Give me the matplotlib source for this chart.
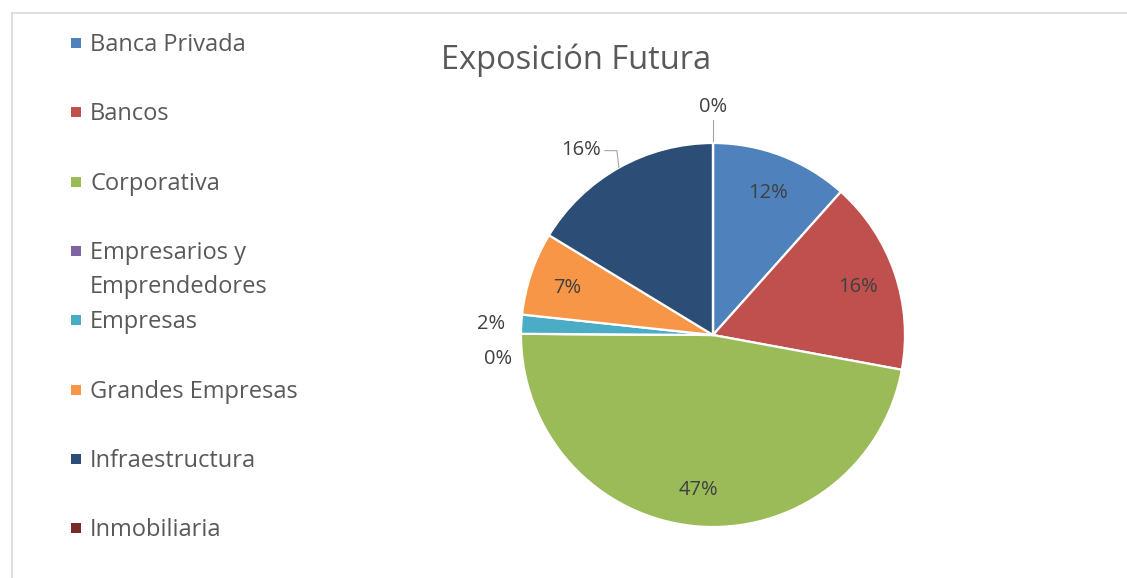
import matplotlib
matplotlib.use("Agg")
import matplotlib.pyplot as plt
import numpy as np

# data (shares of future exposure, %)
categories = ["Banca Privada", "Bancos", "Corporativa", "Empresarios y\nEmprendedores",
              "Empresas", "Grandes Empresas", "Infraestructura", "Inmobiliaria"]
shares = [11.6, 16.3, 47.2, 0.0, 1.6, 7.0, 16.3, 0.0]
colors = ["#4F81BD", "#C0504D", "#9BBB59", "#8064A2",
          "#4BACC6", "#F79646", "#2C4D75", "#772C2A"]
title = "Exposición Futura"

plt.rcParams['font.family'] = ['Open Sans', 'DejaVu Sans']
txt_col = "#595959"
lbl_col = "#404040"

W, H = 1127, 578
fig = plt.figure(figsize=(W / 100, H / 100), dpi=100)
ax = fig.add_axes([0, 0, 1, 1])

cx, cy, R = 713, H - 335, 192  # pie centre / radius in pixel units
wedges, _ = ax.pie(shares, colors=colors, startangle=90, counterclock=False,
                   center=(cx, cy), radius=R, frame=True,
                   wedgeprops=dict(edgecolor="white", linewidth=1.6))
ax.set_xlim(0, W)
ax.set_ylim(0, H)
ax.axis('off')

# chart border (only top and left visible in the crop)
ax.plot([12, W], [H - 13, H - 13], color="#D9D9D9", lw=1.2, clip_on=False)
ax.plot([12, 12], [H - 13, 0], color="#D9D9D9", lw=1.2, clip_on=False)

ax.text(576, H - 60, title, fontsize=23.5, color=txt_col, ha='center', va='center')

# data labels
def mid(w):
    a = np.deg2rad((w.theta1 + w.theta2) / 2)
    return np.cos(a), np.sin(a)

fs = 14.5
for i, (w, v) in enumerate(zip(wedges, shares)):
    c, s = mid(w)
    if v >= 5 and i != 6:
        ax.text(cx + 0.8 * R * c, cy + 0.8 * R * s - 2, "%d%%" % round(v), fontsize=fs,
                color=lbl_col, ha='center', va='center')

# labels outside the pie
c, s = mid(wedges[7])
ax.text(cx + 1.2 * R * c, cy + 1.2 * R * s - 2, "%d%%" % round(shares[7]), fontsize=fs,
        color=lbl_col, ha='center', va='center')
ax.plot([cx + 1.01 * R * c, cx + 1.12 * R * c], [cy + 1.01 * R * s, cy + 1.12 * R * s],
        color="#A6A6A6", lw=0.8)
c, s = mid(wedges[6])
ex, ey = cx + R * c, cy + R * s
ax.plot([ex, ex - 2, ex - 14], [ey, ey + 17, ey + 17], color="#A6A6A6", lw=0.8)
ax.text(ex - 18, ey + 18, "%d%%" % round(shares[6]), fontsize=fs, color=lbl_col,
        ha='right', va='center')
c, s = mid(wedges[4])
ax.text(cx + 1.16 * R * c, cy + 1.16 * R * s - 2, "%d%%" % round(shares[4]), fontsize=fs,
        color=lbl_col, ha='center', va='center')
c, s = mid(wedges[3])
ax.text(cx + 1.12 * R * c, cy + 1.12 * R * s - 25, "%d%%" % round(shares[3]), fontsize=fs,
        color=lbl_col, ha='center', va='center')

# legend, laid out like the spreadsheet one (fixed slots, long names wrap)
for i, (name, col) in enumerate(zip(categories, colors)):
    y = H - (43 + 69.3 * i)
    ax.scatter([76], [y], marker='s', s=49, color=col, linewidths=0)
    for k, line in enumerate(name.split('\n')):
        ax.text(90, y - 2 - 34 * k, line, fontsize=17, color=txt_col, ha='left', va='center')

fig.savefig("out.png", dpi=100)
